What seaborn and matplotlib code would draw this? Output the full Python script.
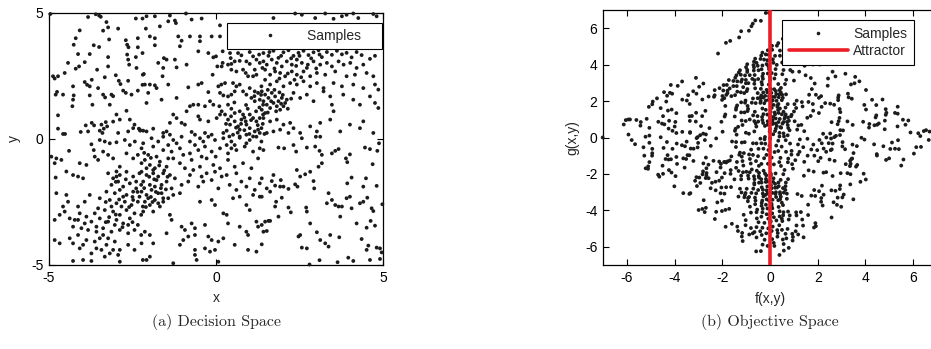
import numpy as np
import pandas as pd
import matplotlib
matplotlib.use('Agg')
import matplotlib.pyplot as plt
import seaborn as sns
from matplotlib.lines import Line2D

##########################################################
# samples in decision space (x, y) (a) region by region
top_left = [
    (-4.96, 4.96), (-3.83, 4.84), (-3.6, 4.95), (-3.5, 4.9), (-3.45, 4.85), (-3.28, 4.64), (-3.23, 4.43),
    (-3.38, 4.3), (-4.08, 4.31), (-4.2, 4.0), (-4.26, 3.74), (-3.66, 3.72), (-3.5, 3.65), (-3.2, 3.95),
    (-2.93, 4.38), (-2.4, 4.78), (-2.2, 4.78), (-2.7, 3.92), (-2.66, 3.74), (-2.62, 3.64), (-2.34, 4.0),
    (-2.34, 3.64), (-4.13, 3.37), (-3.78, 3.37), (-3.23, 3.25), (-2.66, 3.35), (-2.63, 3.15), (-2.6, 2.95),
    (-2.4, 3.25), (-2.38, 2.82), (-4.43, 3.02), (-4.1, 2.88), (-4.2, 2.79), (-3.93, 3.05), (-3.56, 2.75),
    (-3.23, 2.88), (-4.53, 2.62), (-4.88, 2.49), (-4.83, 2.4), (-4.73, 2.49), (-3.72, 2.35), (-3.86, 2.15),
    (-3.78, 2.09), (-3.53, 2.02), (-3.33, 2.45), (-3.0, 2.53), (-2.91, 2.31), (-2.86, 2.18), (-2.63, 2.31),
    (-4.28, 2.09), (-3.93, 2.26), (-2.19, 2.55), (-2.2, 2.15), (-4.76, 1.87), (-4.8, 1.76), (-4.58, 1.76),
    (-4.26, 1.73), (-3.78, 1.73), (-3.38, 1.76), (-3.32, 1.65), (-3.13, 1.76), (-3.08, 1.7), (-2.78, 1.92),
    (-2.7, 1.83), (-2.53, 1.76), (-2.34, 1.92), (-4.28, 1.56), (-4.3, 1.3), (-3.7, 1.36), (-3.18, 1.36),
    (-2.68, 1.12), (-2.98, 0.97), (-4.73, 0.94), (-3.72, 0.64), (-3.65, 0.54), (-3.43, 0.57), (-3.9, 0.54),
    (-3.3, 0.67), (-3.26, 0.5), (-3.08, 0.69), (-2.88, 0.77), (-2.58, 0.77), (-2.44, 0.57), (-2.31, 0.41),
    (-4.73, 0.41), (-4.58, 0.2), (-4.52, 0.2), (-4.05, 0.28), (-3.83, 0.3), (-3.48, 0.33), (-3.36, 0.41),
    (-3.4, 0.24), (-2.93, 0.24), (-2.63, 0.3), (-2.48, 0.43), (-2.27, 0.33),
]

top_mid = [
    (-2.08, 4.87), (-1.83, 4.87), (-1.38, 4.9), (-0.9, 4.98), (-1.43, 4.67), (-1.23, 4.7), (-1.2, 4.6),
    (-0.73, 4.74), (-0.43, 4.78), (0.12, 4.51), (-2.1, 4.38), (-1.68, 4.47), (-1.98, 4.07), (-1.83, 4.0),
    (-1.13, 4.07), (-1.03, 3.9), (-1.08, 3.68), (-0.78, 4.07), (-0.48, 4.07), (-0.48, 3.88), (-0.13, 4.07),
    (0.12, 4.07), (-1.83, 3.72), (-2.2, 3.41), (-0.53, 3.48), (-1.56, 3.21), (-1.48, 3.15), (-1.73, 3.02),
    (-1.23, 3.15), (-0.23, 3.41), (-0.08, 3.24), (0.0, 3.28), (0.2, 3.48), (0.42, 3.41), (0.44, 3.21),
    (0.66, 3.41), (0.76, 3.32), (1.01, 3.45), (1.11, 3.28), (1.29, 3.35), (0.2, 3.02), (0.17, 2.88),
    (0.36, 2.95), (0.46, 2.98), (0.56, 3.08), (0.71, 3.1), (0.91, 3.08), (1.01, 2.98), (1.21, 3.15),
    (1.31, 3.02), (1.39, 2.82), (0.46, 2.75), (0.61, 2.68), (0.81, 2.75), (0.89, 2.62), (0.96, 2.49),
    (1.16, 2.75), (1.21, 2.55), (1.11, 2.49), (0.04, 2.88), (-1.58, 2.82), (-1.6, 2.49), (-1.18, 2.84),
    (-0.88, 2.95), (-2.16, 2.58), (-2.13, 2.16), (-1.98, 2.16), (-1.83, 2.13), (-1.78, 2.02), (-2.03, 1.83),
    (-1.43, 2.16), (-0.83, 2.05), (-0.53, 2.16), (-0.43, 2.22), (-0.1, 2.55), (0.07, 2.09), (0.16, 2.16),
    (0.27, 2.22), (0.51, 2.22), (0.61, 2.09), (0.56, 1.89), (-0.23, 1.86), (0.12, 1.83), (0.22, 1.73),
    (0.36, 1.69), (0.46, 1.76), (0.71, 2.16), (0.81, 1.89), (0.91, 1.76), (1.01, 2.02), (1.16, 1.89),
    (1.26, 1.83), (1.36, 2.09), (1.06, 1.63), (1.16, 1.5), (1.31, 1.56), (1.41, 1.36), (-2.08, 1.43),
    (-1.63, 1.56), (-1.18, 1.63), (-0.78, 1.3), (-0.68, 1.36), (-0.53, 1.36), (-0.33, 1.3), (-0.88, 1.1),
    (-0.18, 1.5), (-0.08, 1.36), (0.1, 1.3), (0.17, 1.1), (0.27, 0.97), (0.36, 1.36), (0.46, 1.2),
    (0.56, 1.03), (0.71, 1.1), (0.81, 0.97), (0.76, 0.77), (0.89, 0.7), (1.01, 0.97), (1.11, 0.83),
    (1.21, 0.7), (1.31, 0.83), (1.41, 0.97), (-1.28, 0.97), (-1.18, 0.83), (-0.53, 0.9), (-0.48, 0.77),
    (-1.38, 0.64), (-1.03, 0.64), (-0.93, 0.57), (-0.23, 0.7), (0.02, 0.83), (0.12, 0.97), (0.36, 0.77),
    (0.42, 0.57), (0.56, 0.7), (0.66, 0.5), (0.71, 0.37), (0.91, 0.57), (1.01, 0.43), (1.16, 0.3),
    (1.26, 0.37), (1.36, 0.43), (-2.28, 0.37), (-2.18, 0.33), (-2.08, 0.3), (-1.88, 0.41), (-1.58, 0.24),
    (-1.48, 0.3), (-1.38, 0.17), (-0.73, 0.28), (-0.63, 0.17), (-0.33, 0.24), (-0.13, 0.17), (0.22, 0.24),
    (0.32, 0.33), (0.51, 0.17), (0.71, 0.1), (0.91, 0.17), (1.11, 0.1), (1.31, 0.24),
    (0.3, 0.6), (0.45, 0.9), (0.6, 0.45), (0.75, 0.6), (0.85, 0.85), (0.95, 1.2), (1.05, 0.75),
    (1.2, 1.1), (1.3, 1.25), (1.4, 0.6), (0.55, 1.45), (0.9, 1.35), (1.15, 1.7), (1.35, 1.75),
    (0.65, 0.25), (0.85, 0.35), (1.25, 0.55), (0.4, 0.1), (1.0, 0.2), (1.45, 0.2),
]

top_right = [
    (1.72, 4.8), (2.37, 4.98), (2.57, 4.93), (2.97, 4.8), (3.27, 4.98), (3.52, 4.77), (3.77, 4.87),
    (3.91, 4.93), (4.11, 4.98), (4.26, 4.8), (4.71, 4.96), (4.81, 4.87),
    (1.42, 3.41), (1.57, 3.3), (1.72, 3.5), (1.87, 3.22), (2.02, 3.44), (2.17, 3.52), (2.32, 3.3),
    (2.47, 3.42), (2.62, 3.5), (2.77, 3.33), (2.92, 3.44), (3.07, 3.52), (3.17, 3.25), (3.32, 3.45),
    (3.47, 3.34), (3.62, 3.5), (3.77, 3.36), (3.91, 3.42), (4.06, 3.24), (4.21, 3.45), (4.36, 3.33),
    (4.61, 3.18), (4.76, 3.3),
    (1.42, 3.08), (1.52, 2.95), (1.67, 3.15), (1.82, 3.02), (1.97, 2.88), (2.12, 3.08), (2.27, 2.95),
    (2.42, 3.15), (2.57, 3.02), (2.72, 2.82), (2.92, 3.08), (3.12, 2.95), (3.32, 3.02), (3.47, 2.88),
    (3.67, 3.08), (3.82, 2.95), (4.02, 3.02), (4.21, 2.82), (4.41, 2.95),
    (1.47, 2.75), (1.62, 2.55), (1.77, 2.68), (1.92, 2.62), (2.07, 2.49), (2.27, 2.68), (2.42, 2.55),
    (2.62, 2.68), (2.82, 2.49), (3.02, 2.62), (3.27, 2.55), (3.57, 2.68), (3.91, 2.49), (4.16, 2.55),
    (4.51, 2.62), (4.71, 2.49),
    (1.47, 2.35), (1.62, 2.16), (1.82, 2.29), (2.02, 2.09), (2.22, 2.22), (2.42, 2.16), (2.62, 2.29),
    (2.82, 2.09), (3.02, 2.22), (3.22, 2.02), (3.52, 2.22), (3.77, 2.09), (4.11, 2.16), (4.41, 2.02),
    (4.76, 2.16), (4.86, 1.96),
    (1.37, 1.89), (1.47, 1.76), (1.57, 1.63), (1.67, 1.83), (1.77, 1.69), (1.87, 1.5), (1.97, 1.63),
    (2.07, 1.43), (1.42, 1.5), (1.52, 1.36), (1.62, 1.23), (1.72, 1.43), (1.82, 1.3), (1.92, 1.16),
    (2.02, 1.3), (2.12, 1.56), (1.37, 1.16), (1.47, 1.03),
    (2.32, 1.83), (2.52, 1.63), (2.72, 1.76), (2.92, 1.5), (3.22, 1.89), (3.42, 1.69), (3.47, 1.36),
    (3.52, 1.1), (3.81, 1.76), (4.11, 1.56), (4.31, 1.36), (4.61, 1.69), (4.76, 1.43), (4.86, 1.23),
    (1.42, 0.83), (1.62, 0.7), (1.82, 0.77), (2.02, 0.57), (2.22, 0.64), (1.72, 0.3), (1.92, 0.37),
    (2.32, 0.43), (2.52, 0.24), (2.82, 0.5), (3.02, 0.3), (3.12, 0.64), (3.42, 0.77), (3.72, 0.3),
    (4.01, 0.57), (4.31, 0.43), (4.41, 0.7), (4.71, 0.24), (1.52, 0.24), (2.17, 0.24),
    (1.55, 1.95), (1.75, 1.95), (1.9, 1.85), (2.0, 1.75), (1.65, 1.5), (1.95, 1.4), (1.8, 1.1),
    (1.55, 1.05), (2.25, 1.6), (2.15, 1.2),
    (1.6, 3.45), (1.95, 3.3), (2.25, 3.2), (2.5, 3.3), (2.85, 3.2), (3.1, 3.35), (2.4, 2.9),
    (2.75, 2.95), (3.0, 2.8), (1.75, 2.8), (2.15, 2.6), (2.55, 2.45), (1.9, 2.4), (2.35, 2.35),
]

bottom_left = [
    (-4.93, -0.7), (-4.78, -0.77), (-4.63, -0.83), (-4.83, -0.96), (-4.4, -0.47), (-3.73, -0.21),
    (-3.66, -0.44), (-3.48, -0.04), (-3.33, -0.1), (-3.18, -0.17), (-2.98, -0.13), (-2.73, -0.04),
    (-2.58, -0.24), (-2.43, -0.1), (-3.38, -0.5), (-3.23, -0.63), (-3.08, -0.77), (-2.68, -0.57),
    (-2.48, -0.77), (-2.34, -0.63), (-4.08, -0.96), (-3.88, -1.03), (-3.63, -0.7), (-3.53, -0.83),
    (-4.48, -1.29), (-4.28, -1.43), (-4.13, -1.49), (-3.98, -1.56), (-4.8, -1.53), (-2.88, -1.1),
    (-2.98, -1.29),
    (-3.23, -1.36), (-3.08, -1.56), (-2.88, -1.43), (-2.68, -1.3), (-2.48, -1.49), (-2.29, -1.36),
    (-3.13, -1.82), (-2.93, -1.69), (-2.78, -1.89), (-2.58, -1.76), (-2.39, -1.69), (-2.24, -1.82),
    (-3.28, -2.09), (-3.03, -2.15), (-2.88, -2.02), (-2.68, -2.22), (-2.48, -2.09), (-2.29, -2.29),
    (-3.18, -2.42), (-2.98, -2.55), (-2.73, -2.49), (-2.53, -2.62), (-2.34, -2.49), (-2.19, -2.68),
    (-3.33, -2.82), (-3.08, -2.88), (-2.88, -3.01), (-2.68, -2.82), (-2.44, -2.95), (-2.24, -3.01),
    (-3.48, -3.15), (-3.23, -3.28), (-2.98, -3.21), (-2.78, -3.35), (-2.58, -3.15), (-2.34, -3.41),
    (-3.38, -3.54), (-3.13, -3.68), (-2.88, -3.61), (-2.63, -3.74), (-2.44, -3.61), (-2.24, -3.81),
    (-2.98, -1.49), (-2.39, -1.96), (-2.78, -2.29), (-3.13, -2.68), (-2.48, -2.42), (-2.83, -2.68),
    (-3.53, -2.75), (-3.03, -3.41), (-3.58, -3.68), (-2.63, -3.41),
    (-4.78, -2.15), (-4.48, -2.22), (-4.43, -2.49), (-4.58, -2.68), (-4.13, -2.68), (-3.93, -2.49),
    (-3.78, -2.22), (-3.48, -2.35), (-4.68, -3.01), (-4.38, -3.15), (-4.13, -3.21), (-3.88, -3.08),
    (-3.63, -2.95), (-3.73, -3.28), (-4.83, -3.21), (-4.28, -3.48), (-4.03, -3.54), (-3.83, -3.61),
    (-3.58, -3.48), (-4.13, -3.81), (-4.38, -3.94), (-3.88, -4.01), (-3.63, -4.07), (-3.48, -3.94),
    (-3.28, -4.2), (-3.03, -4.07), (-2.88, -4.4), (-3.43, -4.4), (-3.73, -4.54), (-4.08, -4.34),
    (-4.28, -4.14), (-4.68, -4.14), (-4.83, -4.01), (-3.18, -4.54), (-2.93, -4.6), (-4.28, -4.84),
    (-3.98, -4.8), (-3.73, -4.84), (-2.88, -4.87), (-2.19, -4.8), (-2.63, -4.2), (-2.44, -4.4),
    (-3.38, -3.81), (-3.23, -3.94), (-3.93, -3.35), (-3.58, -4.34), (-3.08, -4.4), (-3.33, -4.67),
    (-3.98, -4.2), (-4.23, -3.21), (-4.53, -2.88), (-4.08, -2.95),
    (-3.0, -1.7), (-2.7, -1.6), (-2.5, -2.3), (-2.9, -2.4), (-3.3, -2.5), (-2.6, -2.7), (-3.0, -3.0),
    (-2.5, -3.3), (-3.2, -3.1), (-2.8, -3.5), (-3.3, -3.3), (-2.35, -2.1),
]

bottom_mid = [
    (-1.93, 0.03), (-1.58, 0.09), (-1.28, -0.04), (-1.03, 0.09), (-0.78, -0.1), (-0.48, 0.03),
    (-0.23, 0.09), (-0.03, -0.04), (0.22, 0.03), (0.46, -0.1), (0.71, 0.05), (1.01, -0.04), (1.21, 0.09),
    (1.36, -0.1), (-2.23, -0.37), (-1.88, -0.3), (-1.58, -0.44), (-1.33, -0.5), (-1.08, -0.37),
    (-0.78, -0.57), (-0.53, -0.44), (-0.33, -0.3), (-0.13, -0.5), (0.12, -0.37), (0.36, -0.57),
    (0.61, -0.44), (0.86, -0.3), (1.11, -0.5), (1.31, -0.37), (-2.13, -0.83), (-1.98, -1.03),
    (-1.83, -1.16), (-1.68, -0.9), (-1.48, -1.1), (-1.28, -0.77), (-1.08, -0.96), (-0.93, -1.16),
    (-0.73, -0.83), (-0.48, -1.1), (-0.28, -0.77), (-0.08, -1.03), (0.12, -1.16), (0.36, -0.83),
    (0.56, -1.1), (0.81, -0.96), (1.06, -1.16), (1.26, -0.77),
    (-2.18, -0.17), (-1.73, -0.1), (-1.43, -0.24), (-1.18, -0.17), (-0.63, -0.24), (-0.38, -0.1),
    (0.32, -0.24), (0.56, -0.24), (0.91, -0.17), (-2.03, -0.63), (-1.78, -0.7), (-1.43, -0.77),
    (-0.98, -0.63), (-0.43, -0.7), (-0.01, -0.7), (0.46, -0.37), (-2.23, -0.96), (-1.88, -1.36),
    (-2.08, -1.16), (-1.38, -1.43), (-0.68, -1.23), (-0.43, -1.49), (-0.03, -1.3), (0.32, -1.43),
    (0.61, -1.36), (-1.63, -2.15), (-1.83, -1.89), (-2.03, -2.35), (-1.73, -2.55), (-1.43, -2.35),
    (-2.23, -1.3), (-2.08, -1.43), (-1.88, -1.23), (-1.73, -1.49), (-1.58, -1.36), (-2.18, -1.69),
    (-1.98, -1.82), (-1.78, -1.63), (-1.63, -1.82), (-1.48, -1.69), (-2.23, -2.09), (-2.08, -2.22),
    (-1.93, -2.02), (-1.73, -2.15), (-1.58, -2.35), (-2.13, -2.49), (-1.98, -2.62), (-1.83, -2.42),
    (-1.68, -2.68), (-2.18, -2.88), (-1.88, -2.88), (-1.58, -2.49), (-1.33, -1.96), (-1.23, -1.56),
    (-1.03, -1.82), (-0.83, -1.69), (-0.78, -1.43), (-0.53, -1.89), (-0.38, -1.69), (-0.13, -1.63),
    (-0.28, -1.36), (0.07, -1.96), (0.17, -1.49), (0.41, -1.82), (0.61, -2.02), (0.76, -1.69),
    (0.91, -1.89), (1.01, -1.56), (1.16, -2.02), (1.31, -1.76), (0.51, -2.35), (0.71, -2.29),
    (0.91, -2.62), (1.11, -2.22), (1.31, -2.29), (1.01, -2.82), (-1.28, -2.22), (-1.08, -2.15),
    (-0.48, -2.49), (-0.13, -2.42), (-0.03, -2.62), (0.22, -2.95), (0.32, -3.01),
    (-1.38, -3.01), (-1.33, -3.21), (-1.03, -3.48), (-0.93, -3.61), (-0.73, -3.35), (-0.63, -3.54),
    (-0.33, -3.41), (-0.63, -3.81), (-0.83, -3.87), (-0.98, -4.01), (-0.23, -3.87), (-0.13, -4.01),
    (0.07, -4.07), (0.22, -3.94), (0.56, -4.2), (0.96, -3.81), (1.21, -3.28), (1.26, -3.48),
    (0.71, -3.48), (0.91, -3.68), (-0.33, -4.34), (-0.63, -4.4), (-0.63, -4.6), (-0.18, -4.47),
    (-0.03, -4.4), (0.07, -4.87), (-1.28, -4.93), (-0.58, -4.8), (-1.98, -3.81), (-2.13, -3.68),
    (-2.23, -4.14), (-1.88, -4.14), (-2.08, -4.8), (-1.98, -4.67), (1.21, -4.47), (0.96, -4.4),
    (-1.48, -3.74), (-1.08, -4.2), (0.36, -3.35),
    (-2.15, -0.55), (-1.95, -0.75), (-1.7, -1.05), (-1.55, -1.25), (-2.0, -1.5), (-1.85, -1.6),
    (-1.65, -1.95), (-2.15, -1.95), (-1.95, -2.3), (-1.8, -2.1), (-1.5, -2.0), (-1.45, -1.5),
    (-2.1, -2.7), (-1.9, -2.5),
]

bottom_right = [
    (1.42, -0.44), (1.87, -0.34), (2.04, -0.37), (2.32, -0.24), (2.4, -0.5), (2.57, 0.03), (2.72, -0.34),
    (2.99, 0.09), (3.12, 0.09), (2.97, -0.3), (3.1, -0.47), (3.17, -0.63), (3.47, -0.57), (3.57, -0.47),
    (3.67, -0.4), (3.89, -0.77), (3.93, -0.92), (4.01, -0.61), (4.46, -0.34), (4.61, -0.4), (4.83, -0.47),
    (4.88, -0.17), (4.69, -1.0), (2.42, -1.23), (2.52, -1.49), (2.67, -1.4), (2.82, -1.3), (3.17, -0.96),
    (3.07, -1.1), (1.72, -1.43), (1.67, -1.67), (1.77, -1.85), (1.92, -1.89), (2.02, -1.89), (1.94, -1.63),
    (2.17, -1.98), (2.37, -1.8), (2.44, -1.89), (2.92, -1.67), (2.94, -1.96), (1.37, -1.56), (1.52, -1.96),
    (1.62, -2.09), (1.37, -2.29), (1.97, -2.33), (1.8, -2.49), (1.77, -2.68), (3.93, -1.76), (4.06, -1.53),
    (4.41, -1.89), (4.49, -1.56), (4.81, -1.86), (3.37, -2.15), (3.32, -2.55), (3.47, -2.42), (3.57, -2.62),
    (3.67, -2.68), (3.77, -2.68), (3.72, -3.08), (3.91, -2.35), (4.01, -2.29), (4.06, -2.75), (4.31, -2.55),
    (4.41, -2.49), (4.53, -2.33), (4.66, -2.75), (4.71, -2.86), (4.98, -2.59), (2.17, -2.72), (2.24, -2.91),
    (2.7, -2.72), (2.72, -2.88), (1.87, -3.08), (1.47, -3.28), (1.57, -3.25), (1.62, -3.25), (1.37, -3.41),
    (1.42, -3.68), (1.52, -3.65), (2.82, -3.35), (4.21, -3.35), (4.51, -3.52), (4.63, -3.25), (4.76, -3.44),
    (2.52, -3.81), (2.47, -3.87), (3.02, -3.7), (3.12, -4.01), (3.42, -3.81), (3.69, -3.9), (3.27, -4.14),
    (3.37, -4.27), (2.57, -4.31), (2.72, -4.34), (1.37, -4.18), (4.36, -3.97), (4.56, -4.23), (4.51, -4.4),
    (4.81, -4.31), (4.91, -4.34), (4.96, -4.5), (3.1, -4.81), (3.64, -4.89), (3.96, -4.71), (4.11, -4.84),
    (4.61, -4.8), (4.91, -4.76), (2.8, -4.98),
]

# the attractor in objective space: the line f(x,y) = 0
attractor_f = [0, 0]
attractor_g = [-7, 7]

dec = pd.DataFrame(top_left + top_mid + top_right + bottom_left + bottom_mid + bottom_right,
                   columns=['x', 'y'])
# objective space is the decision space turned by 45 degrees
dec['f'] = (dec['x'] - dec['y']) / np.sqrt(2)
dec['g'] = (dec['x'] + dec['y']) / np.sqrt(2)

sns.set_style('ticks')
plt.rcParams['font.family'] = ['Liberation Sans', 'DejaVu Sans']
plt.rcParams['axes.unicode_minus'] = False
plt.rcParams['axes.linewidth'] = 0.9

dot_color = '#1c1c1c'
red = '#ec1c24'

fig = plt.figure(figsize=(9.31, 3.49), dpi=100)
ax1 = fig.add_axes([49 / 931, 84 / 349, 334 / 931, 252 / 349])
ax2 = fig.add_axes([603 / 931, 84 / 349, 334 / 931, 255 / 349])

# (a) decision space
sns.scatterplot(data=dec, x='x', y='y', ax=ax1, s=7.5, color=dot_color,
                edgecolor='none', linewidth=0, legend=False, clip_on=False, zorder=3)
ax1.set_xlim(-5, 5)
ax1.set_ylim(-5, 5)
ax1.set_xticks([-5, 0, 5])
ax1.set_yticks([-5, 0, 5])
ax1.set_xlabel('x', fontsize=10, labelpad=5)
ax1.set_ylabel('y', fontsize=10, labelpad=7)

h_samp = Line2D([], [], ls='none', marker='o', ms=2.6, color=dot_color, mec='none')
leg1 = ax1.legend([h_samp], ['Samples    '], loc='upper left', bbox_to_anchor=(0.533, 0.96),
                  borderaxespad=0, fontsize=10, frameon=True, fancybox=False, framealpha=1,
                  edgecolor='black', borderpad=0.42, handlelength=5.3, handletextpad=0.05)
leg1.get_frame().set_linewidth(0.8)
leg1.set_zorder(5)

# (b) objective space
sns.scatterplot(data=dec, x='f', y='g', ax=ax2, s=7.5, color=dot_color,
                edgecolor='none', linewidth=0, legend=False, clip_on=False, zorder=3)
ax2.plot(attractor_f, attractor_g, color=red, lw=2.6, zorder=4)
ax2.set_xlim(-7, 7)
ax2.set_ylim(-7, 7)
ax2.set_xticks(np.arange(-6, 7, 2))
ax2.set_yticks(np.arange(-6, 7, 2))
ax2.set_xlabel('f(x,y)', fontsize=10, labelpad=5)
ax2.set_ylabel('g(x,y)', fontsize=10, labelpad=4)

h_att = Line2D([], [], color=red, lw=2.6)
leg2 = ax2.legend([h_samp, h_att], ['Samples', 'Attractor'], loc='upper left',
                  bbox_to_anchor=(0.536, 0.961), borderaxespad=0, fontsize=10, frameon=True,
                  fancybox=False, framealpha=1, edgecolor='black', borderpad=0.5,
                  labelspacing=0.2, handlelength=4.25, handletextpad=0.36)
leg2.get_frame().set_linewidth(0.8)
leg2.set_zorder(5)

for ax in (ax1, ax2):
    ax.tick_params(direction='in', top=True, right=True, length=4, width=0.8,
                   labelsize=10, colors='black', pad=4)
    for sp in ax.spines.values():
        sp.set_color('black')

fig.text(216 / 931, 1 - 322 / 349, '(a) Decision Space', ha='center', va='center',
         fontsize=11.5, family='cmr10')
fig.text(770 / 931, 1 - 322 / 349, '(b) Objective Space', ha='center', va='center',
         fontsize=11.5, family='cmr10')

fig.savefig('out.png', dpi=100)
